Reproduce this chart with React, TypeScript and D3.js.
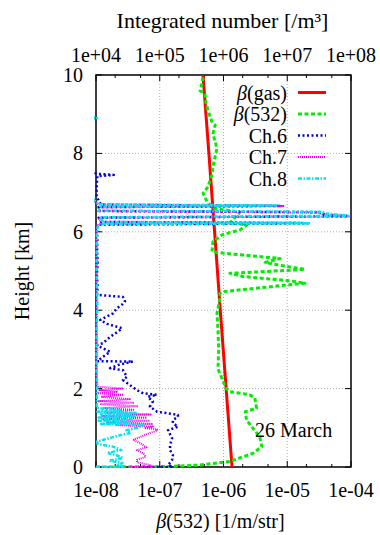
import React from 'react';
import * as d3 from 'd3';

// height [km], beta(532) [1/m/str]
const gasProfile: [number, number][] = [
  [0, 1.36e-6], [2, 1.1e-6], [4, 8.9e-7], [6, 7.25e-7], [8, 5.9e-7], [10, 4.77e-7],
];

const beta532Profile: [number, number][] = [
  [0.0, 1.0e-8], [0.01, 1.3e-7], [0.05, 4.3e-7], [0.14, 1.25e-6], [0.35, 2.9e-6], [0.52, 4.0e-6],
  [0.77, 3.7e-6], [1.2, 2.3e-6], [1.41, 2.2e-6], [1.5, 3.3e-6], [1.76, 3.1e-6], [1.84, 2.6e-6],
  [1.88, 1.9e-6], [1.92, 1.26e-6], [2.0, 1.1e-6], [2.5, 8.2e-7], [3.0, 8.4e-7], [3.5, 8.2e-7],
  [3.92, 7.9e-7], [4.3, 8.8e-7], [4.43, 8.8e-7], [4.47, 9.5e-7], [4.69, 1.9e-5], [4.75, 1.1e-5],
  [4.86, 2.0e-6], [4.94, 1.26e-6], [5.04, 1.9e-5], [5.18, 5.8e-6], [5.22, 4.5e-6], [5.32, 7.7e-6],
  [5.45, 1.06e-6], [5.49, 6.6e-7], [5.75, 6.84e-7], [5.92, 9.4e-7], [6.05, 1.82e-6], [6.18, 2.34e-6],
  [6.22, 1.26e-6], [6.4, 1.57e-6], [6.5, 1.82e-6], [6.6, 7.1e-7], [6.77, 5.5e-7], [6.98, 4.8e-7],
  [7.15, 5.7e-7], [7.45, 6.6e-7], [7.66, 6.84e-7], [7.92, 7.4e-7], [8.13, 7.9e-7], [8.5, 6.84e-7],
  [8.72, 7.4e-7], [8.8, 6.6e-7], [9.1, 5.7e-7], [9.3, 5.3e-7], [9.53, 5.1e-7], [9.6, 4.3e-7],
  [9.8, 4.6e-7], [10.0, 4.8e-7],
];

const ch6Profile: [number, number][] = [
  [0.0, 5.5e-8], [0.0, 1.6e-7], [0.05, 1.35e-7], [0.18, 1.56e-7], [0.3, 1.61e-7], [0.43, 1.45e-7],
  [0.56, 1.45e-7], [0.73, 1.56e-7], [0.94, 1.35e-7], [1.03, 1.93e-7], [1.12, 1.6e-7], [1.2, 1.61e-7],
  [1.28, 1.93e-7], [1.33, 1.93e-7], [1.37, 1.35e-7], [1.41, 9.1e-8], [1.54, 7.0e-8], [1.67, 7.8e-8],
  [1.79, 6.5e-8], [1.84, 9.0e-8], [1.88, 5.5e-8], [1.96, 4.4e-8], [2.09, 3.4e-8], [2.22, 2.65e-8],
  [2.3, 3.06e-8], [2.47, 2.65e-8], [2.52, 1.66e-8], [2.6, 2.2e-8], [2.69, 3.8e-8], [2.7, 1.05e-8],
  [2.81, 1.29e-8], [2.94, 1.66e-8], [3.05, 1.2e-8], [3.11, 1.04e-8], [3.16, 1.29e-8], [3.32, 1.66e-8],
  [3.45, 2.2e-8], [3.54, 2.56e-8], [3.65, 1.5e-8], [3.75, 1.16e-8], [3.92, 1.85e-8], [4.05, 2.13e-8],
  [4.15, 2.6e-8], [4.22, 2.85e-8], [4.34, 2.65e-8], [4.39, 1.04e-8], [4.6, 1.06e-8], [4.9, 1.03e-8],
  [5.2, 1.06e-8], [5.5, 1.04e-8], [5.8, 1.05e-8], [6.1, 1.03e-8], [6.18, 1.08e-8], [6.22, 2.1e-5],
  [6.25, 1.2e-8], [6.36, 1.1e-8], [6.4, 9.0e-5], [6.44, 3.8e-5], [6.5, 3.5e-5], [6.53, 1.1e-8],
  [6.63, 1.1e-8], [6.66, 8.0e-6], [6.69, 1.2e-8], [6.9, 1.02e-8], [7.2, 1.03e-8], [7.42, 1.05e-8],
  [7.45, 1.9e-8], [7.48, 1.05e-8], [7.55, 0.8e-8],
];

const ch7Profile: [number, number][] = [
  [0.0, 3.4e-8], [0.0, 7.8e-8], [0.05, 7.0e-8], [0.12, 4.4e-8], [0.18, 4.4e-8], [0.26, 6.0e-8],
  [0.35, 5.5e-8], [0.43, 4.4e-8], [0.5, 6.2e-8], [0.56, 5.5e-8], [0.62, 4.8e-8], [0.69, 3.8e-8],
  [0.78, 5.2e-8], [0.87, 7.0e-8], [0.92, 9.0e-8], [0.96, 9.1e-8], [0.99, 6.0e-8], [1.03, 7.8e-8],
  [1.07, 2.0e-8], [1.1, 7.5e-8], [1.14, 1.5e-8], [1.18, 7.0e-8], [1.22, 1.3e-8], [1.26, 6.0e-8],
  [1.3, 1.2e-8], [1.34, 7.2e-8], [1.38, 1.5e-8], [1.46, 4.0e-8], [1.5, 1.3e-8], [1.55, 4.4e-8],
  [1.6, 1.2e-8], [1.64, 3.8e-8], [1.68, 1.1e-8], [1.73, 3.4e-8], [1.79, 1.2e-8], [1.84, 2.6e-8],
  [1.88, 1.1e-8], [1.92, 2.2e-8], [1.96, 1.1e-8], [2.0, 2.6e-8], [2.05, 1.05e-8], [2.5, 1.03e-8],
  [3.0, 1.05e-8], [3.5, 1.03e-8], [4.2, 1.04e-8], [4.8, 1.03e-8], [5.3, 1.05e-8], [5.8, 1.02e-8],
  [6.12, 1.03e-8], [6.2, 1.1e-8], [6.23, 1.8e-5], [6.26, 1.2e-8], [6.36, 1.1e-8], [6.39, 1.0e-4],
  [6.45, 3.5e-5], [6.49, 3.0e-5], [6.53, 1.1e-8], [6.62, 1.2e-8], [6.66, 9.0e-6], [6.7, 1.1e-8],
  [6.85, 0.8e-8],
];

const ch8Profile: [number, number][] = [
  [0.0, 1.0e-8], [0.0, 2.6e-8], [0.05, 2.2e-8], [0.1, 2.6e-8], [0.16, 1.6e-8], [0.23, 2.65e-8],
  [0.3, 2.1e-8], [0.36, 1.5e-8], [0.43, 2.5e-8], [0.52, 1.85e-8], [0.56, 1.3e-8], [0.6, 1.05e-8],
  [0.65, 1.04e-8], [0.74, 1.65e-8], [0.82, 2.5e-8], [0.87, 3.5e-8], [0.94, 3.0e-8], [1.0, 4.5e-8],
  [1.07, 5.5e-8], [1.1, 1.2e-8], [1.14, 3.5e-8], [1.18, 1.1e-8], [1.22, 3.6e-8], [1.26, 1.1e-8],
  [1.3, 4.0e-8], [1.34, 1.2e-8], [1.38, 4.4e-8], [1.41, 1.05e-8], [1.45, 2.5e-8], [1.5, 1.03e-8],
  [2.0, 1.04e-8], [2.5, 1.02e-8], [3.5, 1.02e-8], [4.1, 1.05e-8], [5.0, 1.02e-8], [6.0, 1.03e-8],
  [6.19, 1.08e-8], [6.22, 2.3e-5], [6.24, 1.3e-8], [6.37, 1.15e-8], [6.41, 9.0e-5], [6.47, 4.0e-5],
  [6.51, 3.6e-5], [6.54, 1.1e-8], [6.64, 1.2e-8], [6.67, 7.0e-6], [6.7, 1.1e-8], [6.9, 0.8e-8],
  [8.85, 0.8e-8], [8.9, 1.04e-8], [8.95, 0.8e-8],
];

const heightTicks = [0, 2, 4, 6, 8, 10];
const betaTicks = [1e-8, 1e-7, 1e-6, 1e-5, 1e-4];
const betaTickLabels = ['1e-08', '1e-07', '1e-06', '1e-05', '1e-04'];
const numberTicks = [1e4, 1e5, 1e6, 1e7, 1e8];
const numberTickLabels = ['1e+04', '1e+05', '1e+06', '1e+07', '1e+08'];

const seriesNames = ['β(gas)', 'β(532)', 'Ch.6', 'Ch.7', 'Ch.8'];

const font = "'Liberation Serif', 'Times New Roman', 'DejaVu Serif', serif";

export default function App() {
  const width = 380;
  const height = 535;
  const margin = { top: 75, right: 29, bottom: 68, left: 96 };
  const x0 = margin.left, x1 = width - margin.right;
  const yTop = margin.top, yBot = height - margin.bottom;

  const x = d3.scaleLog().domain([1e-8, 1e-4]).range([x0, x1]);
  const xTop = d3.scaleLog().domain([1e4, 1e8]).range([x0, x1]);
  const y = d3.scaleLinear().domain([0, 10]).range([yBot, yTop]);

  const line = d3.line<[number, number]>().x(d => x(d[1])).y(d => y(d[0]));

  const minorBeta = betaTicks.slice(0, -1).flatMap(d => [2 * d, 5 * d]);
  const minorNumber = numberTicks.slice(0, -1).flatMap(d => [2 * d, 5 * d]);

  const styles = [
    { data: gasProfile, color: '#ff0000', width: 3, dash: undefined as string | undefined },
    { data: beta532Profile, color: '#00ee00', width: 3, dash: '4,2.5' },
    { data: ch6Profile, color: '#0000dd', width: 2.5, dash: '2,2.5' },
    { data: ch7Profile, color: '#ee00ee', width: 2, dash: '1,1' },
    { data: ch8Profile, color: '#00e5ee', width: 2.5, dash: '4,1.5,1.5,1.5' },
  ];

  const txt = { fontFamily: font, fontSize: 20, fill: '#000' };

  return (
    <div style={{ position: 'absolute', left: 0, top: 0 }}>
      <svg width={width} height={height} style={{ display: 'block', background: '#fff' }}>
        <defs>
          <clipPath id="plot-clip">
            <rect x={x0 - 2} y={yTop} width={x1 - x0 + 4} height={yBot - yTop + 1} />
          </clipPath>
        </defs>

        {/* grid */}
        {betaTicks.slice(1, -1).map(t => (
          <line key={'gx' + t} x1={x(t)} x2={x(t)} y1={yTop} y2={yBot}
            stroke="#b0b0b0" strokeWidth={1} strokeDasharray="1,2" />
        ))}
        {heightTicks.slice(1, -1).map(t => (
          <line key={'gy' + t} x1={x0} x2={x1} y1={y(t)} y2={y(t)}
            stroke="#b0b0b0" strokeWidth={1} strokeDasharray="1,2" />
        ))}

        {/* frame */}
        <rect x={x0} y={yTop} width={x1 - x0} height={yBot - yTop} fill="none" stroke="#000" strokeWidth={1.5} />

        {/* ticks */}
        {betaTicks.map(t => (
          <line key={'bt' + t} x1={x(t)} x2={x(t)} y1={yBot} y2={yBot - 6} stroke="#000" />
        ))}
        {minorBeta.map(t => (
          <line key={'bm' + t} x1={x(t)} x2={x(t)} y1={yBot} y2={yBot - 3} stroke="#000" />
        ))}
        {numberTicks.map(t => (
          <line key={'nt' + t} x1={xTop(t)} x2={xTop(t)} y1={yTop} y2={yTop + 6} stroke="#000" />
        ))}
        {minorNumber.map(t => (
          <line key={'nm' + t} x1={xTop(t)} x2={xTop(t)} y1={yTop} y2={yTop + 3} stroke="#000" />
        ))}
        {heightTicks.map(t => (
          <g key={'ht' + t}>
            <line x1={x0} x2={x0 + 6} y1={y(t)} y2={y(t)} stroke="#000" />
            <line x1={x1} x2={x1 - 6} y1={y(t)} y2={y(t)} stroke="#000" />
          </g>
        ))}

        {/* series */}
        <g clipPath="url(#plot-clip)">
          {styles.map((s, i) => (
            <path key={i} d={line(s.data) || ''} fill="none" stroke={s.color}
              strokeWidth={s.width} strokeDasharray={s.dash} strokeLinejoin="round" />
          ))}
        </g>

        {/* tick labels */}
        {betaTicks.map((t, i) => (
          <text key={'bl' + t} x={x(t)} y={yBot + 30} style={txt} textAnchor="middle">{betaTickLabels[i]}</text>
        ))}
        {numberTicks.map((t, i) => (
          <text key={'nl' + t} x={xTop(t)} y={yTop - 13} style={txt} textAnchor="middle">{numberTickLabels[i]}</text>
        ))}
        {heightTicks.map(t => (
          <text key={'hl' + t} x={x0 - 13} y={y(t) + 7} style={txt} textAnchor="end">{t}</text>
        ))}

        {/* axis titles */}
        <text x={(x0 + x1) / 2 - 1} y={28} style={{ ...txt, fontSize: 22 }} textAnchor="middle">Integrated number [/m³]</text>
        <text x={(x0 + x1) / 2 - 3} y={528} style={txt} textAnchor="middle">
          <tspan fontStyle="italic">β</tspan>(532) [1/m/str]
        </text>
        <text transform={`translate(29,${(yTop + yBot) / 2}) rotate(-90)`} style={txt} textAnchor="middle">Height [km]</text>

        {/* legend */}
        {seriesNames.map((name, i) => {
          const ly = 92.5 + i * 21.5;
          const s = styles[i];
          const isBeta = name.startsWith('β');
          return (
            <g key={name}>
              <text x={287} y={ly + 7} style={txt} textAnchor="end">
                {isBeta ? <><tspan fontStyle="italic">β</tspan>{name.slice(1)}</> : name}
              </text>
              <line x1={298} x2={326} y1={ly} y2={ly} stroke={s.color} strokeWidth={s.width} strokeDasharray={s.dash} />
            </g>
          );
        })}

        <text x={255} y={437} style={txt}>26 March</text>
      </svg>
    </div>
  );
}
